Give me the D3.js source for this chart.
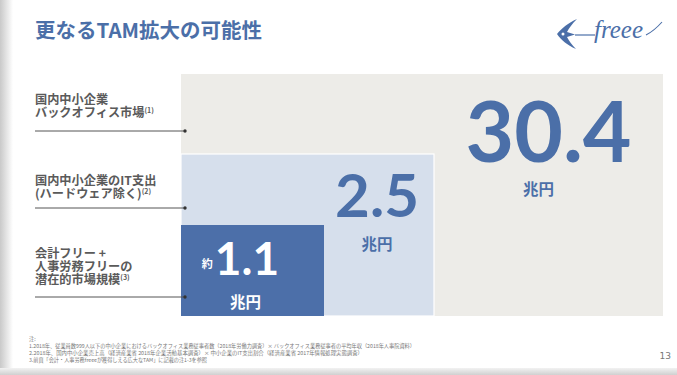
<!DOCTYPE html>
<html>
<head>
<meta charset="utf-8">
<script src="https://cdn.jsdelivr.net/npm/d3@7/dist/d3.min.js"></script>
<style>
  body { margin: 0; background: #fff; }
</style>
</head>
<body>
<div id="chart"></div>
<script>
// データ
const title = "更なるTAM拡大の可能性";
const values = [30.4, 2.5, 1.1];           // 兆円
const valueLabels = ["30.4", "2.5", "1.1"];
const valuePrefixes = ["", "", "約"];
const unit = "兆円";
const labelLines = [
  ["国内中小企業", "バックオフィス市場"],
  ["国内中小企業のIT支出", "(ハードウェア除く)"],
  ["会計フリー +", "人事労務フリーの", "潜在的市場規模"]
];
const noteMarks = ["(1)", "(2)", "(3)"];
const footnotes = [
  "注:",
  "1.2018年、従業員数999人以下の中小企業におけるバックオフィス業務従事者数（2018年労働力調査）× バックオフィス業務従事者の平均年収（2018年人事院資料）",
  "2.2018年、国内中小企業売上高（経済産業省 2018年企業活動基本調査）× 中小企業のIT支出割合（経済産業省 2017年情報処理実態調査）",
  "3.前頁「会計・人事労務freeeが獲得しえる広大なTAM」に記載の注1-3を参照"
];
const pageNumber = "13";

// 見た目
const W = 677, H = 375;
const blue = "#4b6fa8";
const jp = "'Noto Sans CJK JP', 'Noto Sans', sans-serif";
const rectFills = ["#edece8", "#d6dfec", "#4c6fa9"];
const numColors = [blue, blue, "#ffffff"];
const numFont = [84, 60, 46];
const numBaseline = [88, 63, 50];   // 矩形上端からの距離
const numDx = [0, -2, -12];
const unitDx = [-10, -2, -7];
const lineOffsets = [23, 17, 19];   // 次の矩形上端からの距離
const textGap = [14, 10, 13];       // 最終行ベースラインから線まで
const footEnds = [0, 415, 363, 207];

const svg = d3.select("#chart").append("svg")
  .attr("width", W).attr("height", H)
  .attr("font-family", jp);

// 影
const defs = svg.append("defs");
const gl = defs.append("linearGradient").attr("id", "shadowL");
gl.append("stop").attr("offset", 0).attr("stop-color", "#c9c9c9");
gl.append("stop").attr("offset", 1).attr("stop-color", "#ffffff");
const gb = defs.append("linearGradient").attr("id", "shadowB")
  .attr("x1", 0).attr("x2", 0).attr("y1", 0).attr("y2", 1);
gb.append("stop").attr("offset", 0).attr("stop-color", "#f2f2f2");
gb.append("stop").attr("offset", 1).attr("stop-color", "#d0d0d0");
svg.append("rect").attr("x", 0).attr("y", 0).attr("width", 13).attr("height", H).attr("fill", "url(#shadowL)");
svg.append("rect").attr("x", 0).attr("y", 368).attr("width", W).attr("height", 7).attr("fill", "url(#shadowB)");

// タイトル
svg.append("text")
  .attr("x", 35).attr("y", 38)
  .attr("font-size", 20.5).attr("font-weight", 700)
  .attr("fill", blue)
  .text(title);

// ロゴ
const logo = svg.append("g");
logo.append("path")
  .attr("d", "M557,34 C562,28 568,23 577,19 C572,24 569,28 567,32 L575,34.5 L567,37 C569,41 572,45 576,49 C567,45 561,40 557,34 Z")
  .attr("fill", blue);
logo.append("circle").attr("cx", 563).attr("cy", 34).attr("r", 1.5).attr("fill", "#fff");
logo.append("path").attr("d", "M575,35 L595,35").attr("stroke", blue).attr("stroke-width", 1.2);
logo.append("text")
  .attr("x", 594).attr("y", 38)
  .attr("font-family", "'Liberation Serif', serif").attr("font-style", "italic")
  .attr("font-size", 25).attr("fill", blue)
  .text("freee");
logo.append("path").attr("d", "M646,35 Q654,31 662,22").attr("fill", "none")
  .attr("stroke", blue).attr("stroke-width", 1.1);

// スケール（入れ子の矩形）
const domain = [0].concat(values.slice().sort(d3.ascending));
const x = d3.scaleLinear().domain(domain).range([181, 324, 434, 663]);
const y = d3.scaleLinear().domain(domain).range([316, 225, 154, 74]);

const items = values.map((v, i) => ({
  v, i,
  inner: i < values.length - 1 ? values[i + 1] : 0
}));

svg.append("g").selectAll("rect")
  .data(items)
  .join("rect")
  .attr("x", x(0))
  .attr("y", d => y(d.v))
  .attr("width", d => x(d.v) - x(0))
  .attr("height", d => y(0) - y(d.v))
  .attr("fill", d => rectFills[d.i])
  .attr("stroke", d => d.i === 1 ? "#ffffff" : "none")
  .attr("stroke-width", 1.2);

// 数値ラベル（数値＋単位を1つのtextに）
const numText = svg.append("g").selectAll("text")
  .data(items)
  .join("text")
  .attr("transform", d => `translate(${(x(d.inner) + x(d.v)) / 2},${y(d.v)})`)
  .attr("text-anchor", "middle")
  .attr("font-weight", 700)
  .attr("fill", d => numColors[d.i]);

numText.filter(d => valuePrefixes[d.i])
  .append("tspan")
  .attr("x", d => numDx[d.i])
  .attr("y", d => numBaseline[d.i] - 7)
  .attr("font-size", 11)
  .text(d => valuePrefixes[d.i]);
numText.append("tspan")
  .each(function (d) {
    const t = d3.select(this);
    if (valuePrefixes[d.i]) {
      t.attr("dx", 2).attr("dy", 7);
    } else {
      t.attr("x", numDx[d.i]).attr("y", numBaseline[d.i]);
    }
  })
  .attr("font-family", "Lato, 'Noto Sans', sans-serif")
  .attr("font-size", d => numFont[d.i])
  .text(d => valueLabels[d.i]);
numText.append("tspan")
  .attr("x", d => unitDx[d.i])
  .attr("y", d => numBaseline[d.i] + 33)
  .attr("font-size", 15.5)
  .text(unit);

// 左側ラベル
const labels = svg.append("g").selectAll("g")
  .data(items)
  .join("g")
  .attr("transform", d => `translate(0,${y(d.inner) - lineOffsets[d.i]})`);

labels.append("line")
  .attr("x1", 35).attr("x2", 185)
  .attr("stroke", "#555").attr("stroke-width", 1);
labels.append("circle")
  .attr("cx", 185).attr("r", 1.7).attr("fill", "#333");

const lh = 13;
const labelText = labels.append("text")
  .attr("font-size", 12.2).attr("font-weight", 700)
  .attr("fill", "#5a5a5a");
labelText.each(function (d) {
  const lines = labelLines[d.i];
  const t = d3.select(this);
  lines.forEach((s, k) => {
    t.append("tspan")
      .attr("x", 35)
      .attr("y", -textGap[d.i] - (lines.length - 1 - k) * lh)
      .text(s);
  });
  t.append("tspan")
    .attr("font-size", 7).attr("dy", -4.5)
    .text(noteMarks[d.i]);
});

// 注記
svg.append("g").selectAll("text")
  .data(footnotes)
  .join("text")
  .attr("x", 29)
  .attr("y", (d, i) => 341 + i * 7)
  .attr("font-size", 5.2)
  .attr("fill", "#777")
  .each(function (d, i) {
    if (footEnds[i]) {
      d3.select(this).attr("textLength", footEnds[i] - 29).attr("lengthAdjust", "spacingAndGlyphs");
    }
  })
  .text(d => d);

// ページ番号
svg.append("text")
  .attr("x", 671).attr("y", 359)
  .attr("text-anchor", "end")
  .attr("font-family", "'DejaVu Sans', sans-serif")
  .attr("font-size", 9).attr("fill", "#777")
  .text(pageNumber);
</script>
</body>
</html>
